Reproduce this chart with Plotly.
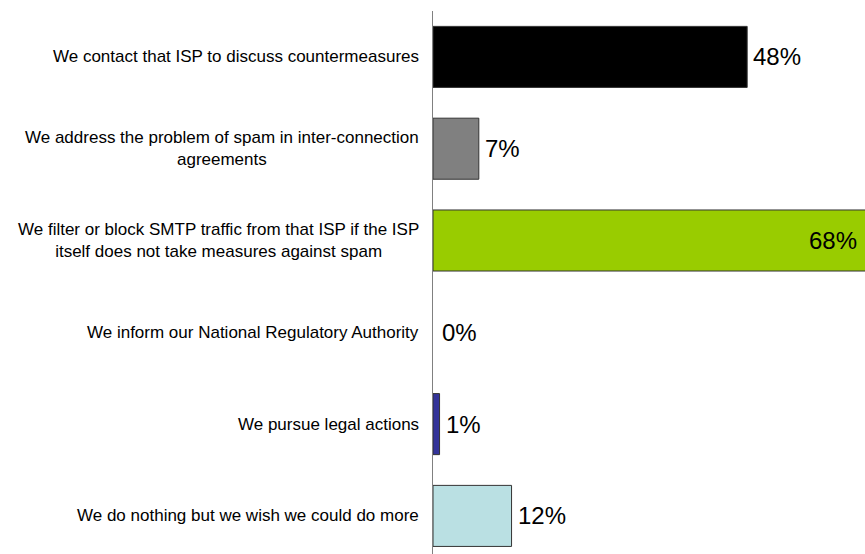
import plotly.graph_objects as go

# Survey responses: what operators do about spam coming from another ISP
categories = [
    "We contact that ISP to discuss countermeasures",
    "We address the problem of spam in inter-connection<br>agreements",
    "We filter or block SMTP traffic from that ISP if the ISP<br>itself does not take measures against spam",
    "We inform our National Regulatory Authority",
    "We pursue legal actions",
    "We do nothing but we wish we could do more",
]
values = [48, 7, 68, 0, 1, 12]
colors = ["#000000", "#808080", "#99CC00", "#FFFFFF", "#333399", "#BAE0E3"]

X_MAX = 66
FONT = "Liberation Sans, Arial, sans-serif"

ypos = list(range(len(categories)))

fig = go.Figure(
    go.Bar(
        x=values,
        y=ypos,
        orientation="h",
        marker=dict(
            color=colors,
            line=dict(color="#333333", width=[0 if v == 0 else 1 for v in values]),
        ),
        cliponaxis=True,
        width=0.665,
        hoverinfo="skip",
    )
)

# Category labels: lines centred within a block that ends just left of the axis
for y, label in zip(ypos, categories):
    fig.add_annotation(
        x=0, xref="paper", y=y, yref="y",
        text=label, showarrow=False,
        xanchor="right", yanchor="middle", align="center",
        xshift=-12,
        font=dict(family=FONT, size=17, color="#000000"),
    )

# Value labels: outside the bar end, or inside when the bar runs past the axis
for y, v in zip(ypos, values):
    if v > X_MAX:
        fig.add_annotation(
            x=X_MAX, xref="x", y=y, yref="y", text=f"{v}%", showarrow=False,
            xanchor="right", yanchor="middle", xshift=-6,
            font=dict(family=FONT, size=24, color="#000000"),
        )
    else:
        fig.add_annotation(
            x=v, xref="x", y=y, yref="y", text=f"{v}%", showarrow=False,
            xanchor="left", yanchor="middle", xshift=4 if v > 0 else 7,
            font=dict(family=FONT, size=24, color="#000000"),
        )

fig.update_layout(
    width=865, height=554,
    margin=dict(l=433, r=0, t=11, b=0),
    plot_bgcolor="white", paper_bgcolor="white",
    showlegend=False,
)
fig.update_xaxes(range=[0, X_MAX], visible=False, showgrid=False, zeroline=False)
fig.update_yaxes(
    range=[5.415, -0.5], showticklabels=False, showgrid=False, zeroline=False,
    showline=True, linecolor="#808080", linewidth=1, ticks="",
)

fig.write_html("out.html")
